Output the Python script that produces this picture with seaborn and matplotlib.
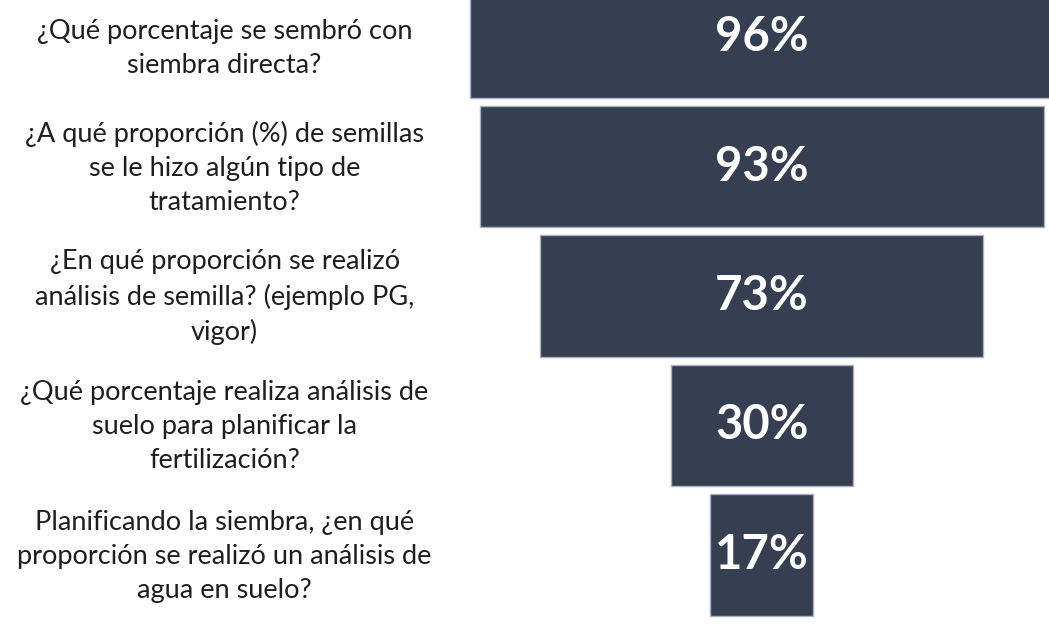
import matplotlib
matplotlib.use("Agg")
import matplotlib.pyplot as plt
import seaborn as sns
import pandas as pd

# Datos del embudo
preguntas = [
    "¿Qué porcentaje se sembró con\nsiembra directa?",
    "¿A qué proporción (%) de semillas\nse le hizo algún tipo de\ntratamiento?",
    "¿En qué proporción se realizó\nanálisis de semilla? (ejemplo PG,\nvigor)",
    "¿Qué porcentaje realiza análisis de\nsuelo para planificar la\nfertilización?",
    "Planificando la siembra, ¿en qué\nproporción se realizó un análisis de\nagua en suelo?",
]
porcentajes = [96, 93, 73, 30, 17]
etiquetas = ["96%", "93%", "73%", "30%", "17%"]

df = pd.DataFrame({"pregunta": preguntas, "valor": porcentajes})

sns.set_theme(style="white")
plt.rcParams["font.family"] = ["Lato", "DejaVu Sans"]

fig = plt.figure(figsize=(10.49, 6.24), dpi=100)
ax = fig.add_axes([0, 0, 1, 1])

sns.barplot(data=df, x="valor", y="pregunta", orient="h", color="#353f51",
            width=0.94, edgecolor="#a9b0bb", linewidth=1, saturation=1, ax=ax)

# centrar cada barra para formar el embudo
for p in ax.patches:
    w = p.get_width()
    p.set_x(-w / 2)

for i, (p, txt) in enumerate(zip(ax.patches, etiquetas)):
    yc = p.get_y() + p.get_height() / 2
    ax.text(0, yc, txt, ha="center", va="center", color="white",
            fontsize=34, fontweight="bold")
    ax.text(-88.5, yc + (0.085 if i == 0 else 0.01), preguntas[i], ha="center",
            va="center", color="#1e1e1e", fontsize=19.5, linespacing=1.45)

ax.set_xlim(-125.5, 47.3)
ax.set_ylim(4.533, -0.286)
ax.axis("off")

fig.savefig("out.png", dpi=100, facecolor="white")
